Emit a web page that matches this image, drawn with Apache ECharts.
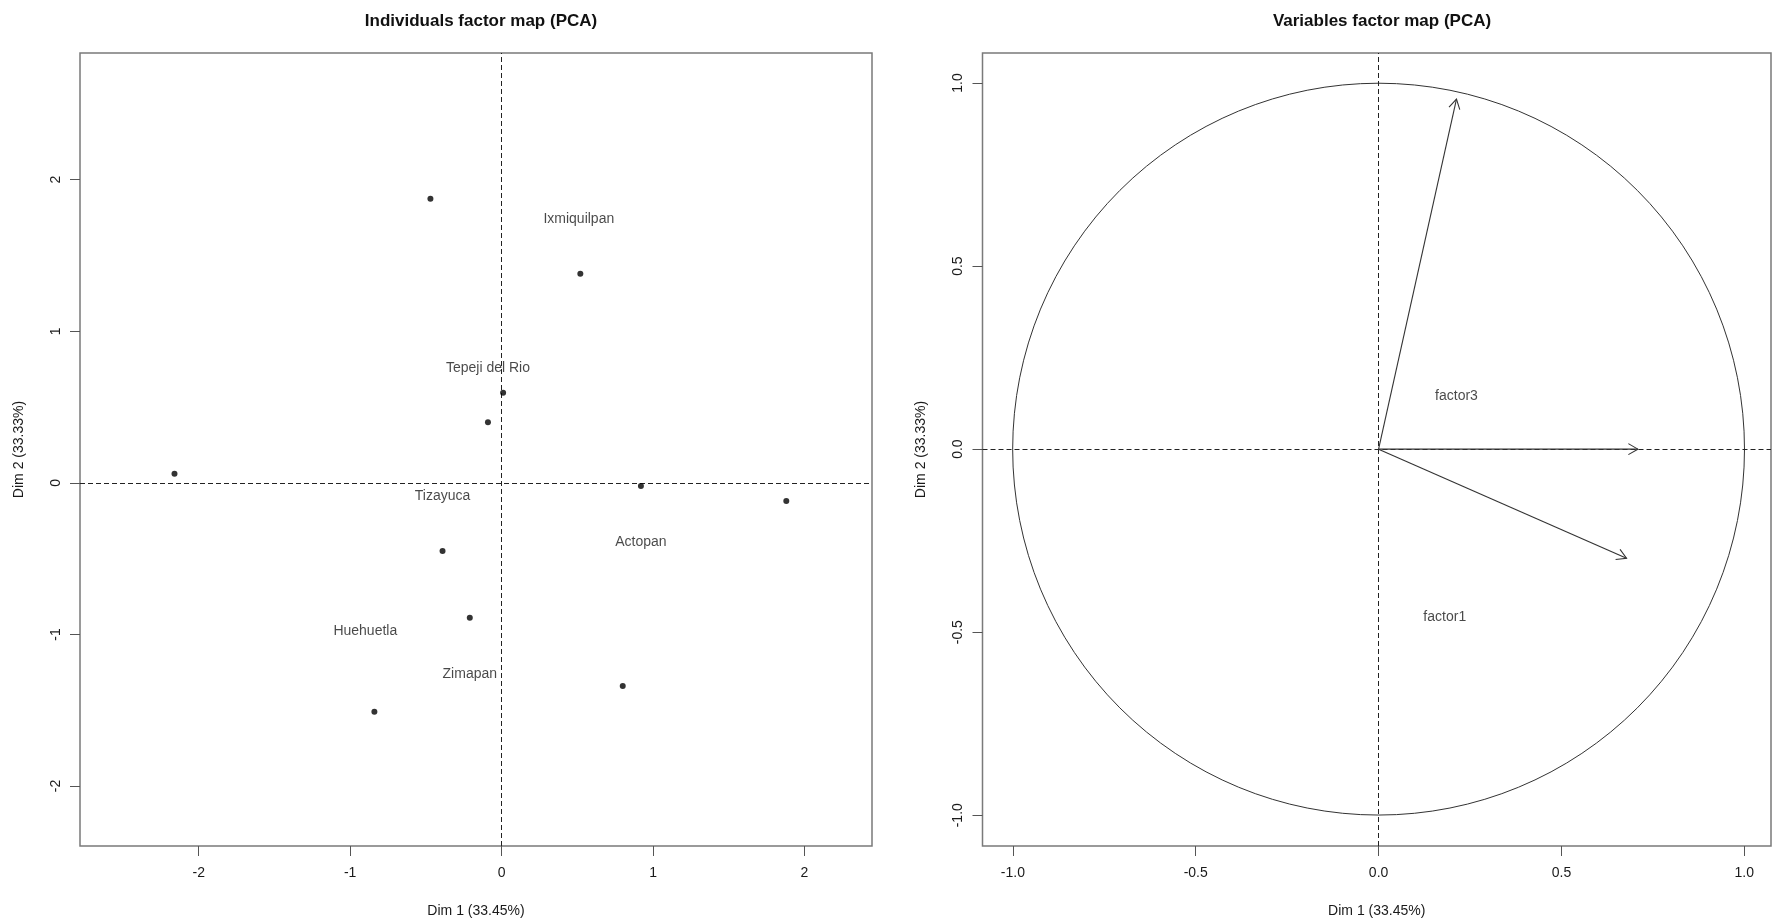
<!DOCTYPE html>
<html>
<head>
<meta charset="utf-8">
<script src="https://cdn.jsdelivr.net/npm/echarts@6/dist/echarts.min.js"></script>
<style>
html,body{margin:0;padding:0;background:#fff;}
#c{width:1773px;height:924px;}
</style>
</head>
<body>
<div id="c"></div>
<script>
// ---- Individuals factor map data ----
const indX = [-0.47, 0.52, 0.01, -0.09, -2.16, 0.92, 1.88, -0.39, -0.21, 0.80, -0.84];
const indY = [1.875, 1.38, 0.595, 0.40, 0.06, -0.02, -0.12, -0.45, -0.89, -1.34, -1.51];
const indLabelNames = ['Ixmiquilpan', 'Tepeji del Rio', 'Tizayuca', 'Actopan', 'Huehuetla', 'Zimapan'];
const indLabelX = [0.51, -0.09, -0.39, 0.92, -0.90, -0.21];
const indLabelY = [1.74, 0.76, -0.09, -0.39, -0.98, -1.26];
const indTicks = [-2, -1, 0, 1, 2];

// ---- Variables factor map data ----
const varX = [0.213, 0.709, 0.678];
const varY = [0.956, 0.0, -0.298];
const varLabelNames = ['factor3', 'factor1'];
const varLabelX = [0.213, 0.181];
const varLabelY = [0.146, -0.458];
const varTicks = [-1.0, -0.5, 0.0, 0.5, 1.0];
const circleRadius = [1];

const FONT = 'Liberation Sans, Arial, sans-serif';
const TXT = '#1a1a1a';
const BOX = '#7a7a7a';

function xAxisCfg(idx, min, max, ticks, fmt) {
  return {
    gridIndex: idx, type: 'value', min: min, max: max,
    splitLine: {show: false},
    axisLine: {show: false, onZero: false},
    axisTick: {show: true, inside: false, length: 10, customValues: ticks, lineStyle: {color: '#555', width: 1}},
    axisLabel: {show: true, customValues: ticks, margin: 20, color: TXT, fontFamily: FONT, fontSize: 14, formatter: fmt},
    name: 'Dim 1 (33.45%)', nameLocation: 'middle', nameGap: 58,
    nameTextStyle: {color: TXT, fontFamily: FONT, fontSize: 14}
  };
}
function yAxisCfg(idx, min, max, ticks, fmt) {
  return {
    gridIndex: idx, type: 'value', min: min, max: max,
    splitLine: {show: false},
    axisLine: {show: false, onZero: false},
    axisTick: {show: true, inside: false, length: 10, customValues: ticks, lineStyle: {color: '#555', width: 1}},
    axisLabel: {show: true, customValues: ticks, rotate: 90, margin: 17, color: TXT, fontFamily: FONT, fontSize: 14, formatter: fmt},
    name: 'Dim 2 (33.33%)', nameLocation: 'middle', nameGap: 54, nameRotate: 90,
    nameTextStyle: {color: TXT, fontFamily: FONT, fontSize: 14}
  };
}

const dashed = {color: '#222', width: 1, type: [5, 3]};
function axisMarkLines() {
  return {
    silent: true, symbol: ['none', 'none'], label: {show: false},
    lineStyle: dashed,
    data: [{xAxis: 0}, {yAxis: 0}]
  };
}

const chart = echarts.init(document.getElementById('c'), null, {renderer: 'canvas'});

const fmtInt = v => String(v);
const fmtOne = v => v.toFixed(1);

const labelSeries = (xi, xs, ys, names) => ({
  type: 'scatter', xAxisIndex: xi, yAxisIndex: xi,
  symbol: 'circle', symbolSize: 1,
  itemStyle: {color: 'rgba(0,0,0,0)'},
  label: {show: true, position: 'inside', formatter: p => p.data[2], color: TXT, fontFamily: FONT, fontSize: 14, textBorderWidth: 0},
  data: xs.map((x, i) => [x, ys[i], names[i]]),
  z: 6
});

const option = {
  backgroundColor: '#fff',
  animation: false,
  title: [
    {text: 'Individuals factor map (PCA)', left: 476, top: 8, textAlign: 'center',
     textStyle: {fontFamily: FONT, fontWeight: 'bold', fontSize: 17, color: '#111'}},
    {text: 'Variables factor map (PCA)', left: 1377, top: 8, textAlign: 'center',
     textStyle: {fontFamily: FONT, fontWeight: 'bold', fontSize: 17, color: '#111'}}
  ],
  grid: [
    {left: 80, top: 53, width: 792, height: 793, show: true, borderColor: BOX, borderWidth: 1.5, backgroundColor: 'transparent', containLabel: false},
    {left: 982.5, top: 53, width: 788.5, height: 793, show: true, borderColor: BOX, borderWidth: 1.5, backgroundColor: 'transparent', containLabel: false}
  ],
  xAxis: [
    xAxisCfg(0, -2.784, 2.446, indTicks, fmtInt),
    xAxisCfg(1, -1.083, 1.073, varTicks, fmtOne)
  ],
  yAxis: [
    yAxisCfg(0, -2.396, 2.836, indTicks, fmtInt),
    yAxisCfg(1, -1.084, 1.082, varTicks, fmtOne)
  ],
  series: [
    {
      type: 'scatter', xAxisIndex: 0, yAxisIndex: 0,
      symbol: 'circle', symbolSize: 6,
      itemStyle: {color: '#000'},
      data: indX.map((x, i) => [x, indY[i]]),
      markLine: axisMarkLines(),
      z: 5
    },
    labelSeries(0, indLabelX, indLabelY, indLabelNames),
    {
      type: 'custom', xAxisIndex: 1, yAxisIndex: 1,
      data: [[0, 0, circleRadius[0]]],
      renderItem: function (params, api) {
        const c = api.coord([api.value(0), api.value(1)]);
        const s = api.size([api.value(2), api.value(2)]);
        return {
          type: 'circle',
          shape: {cx: c[0], cy: c[1], r: (s[0] + s[1]) / 2},
          style: {fill: 'none', stroke: '#333', lineWidth: 1}
        };
      },
      markLine: axisMarkLines(),
      z: 3
    },
    {
      type: 'custom', xAxisIndex: 1, yAxisIndex: 1,
      data: varX.map((x, i) => [x, varY[i]]),
      renderItem: function (params, api) {
        const p0 = api.coord([0, 0]);
        const p1 = api.coord([api.value(0), api.value(1)]);
        const ang = Math.atan2(p1[1] - p0[1], p1[0] - p0[0]);
        const L = 11, a = Math.PI / 6;
        const h1 = [p1[0] - L * Math.cos(ang - a), p1[1] - L * Math.sin(ang - a)];
        const h2 = [p1[0] - L * Math.cos(ang + a), p1[1] - L * Math.sin(ang + a)];
        const st = {stroke: '#333', lineWidth: 1.1, fill: 'none'};
        return {
          type: 'group',
          children: [
            {type: 'line', shape: {x1: p0[0], y1: p0[1], x2: p1[0], y2: p1[1]}, style: st},
            {type: 'polyline', shape: {points: [h1, p1, h2]}, style: st}
          ]
        };
      },
      z: 5
    },
    labelSeries(1, varLabelX, varLabelY, varLabelNames)
  ]
};
chart.setOption(option);
</script>
</body>
</html>
